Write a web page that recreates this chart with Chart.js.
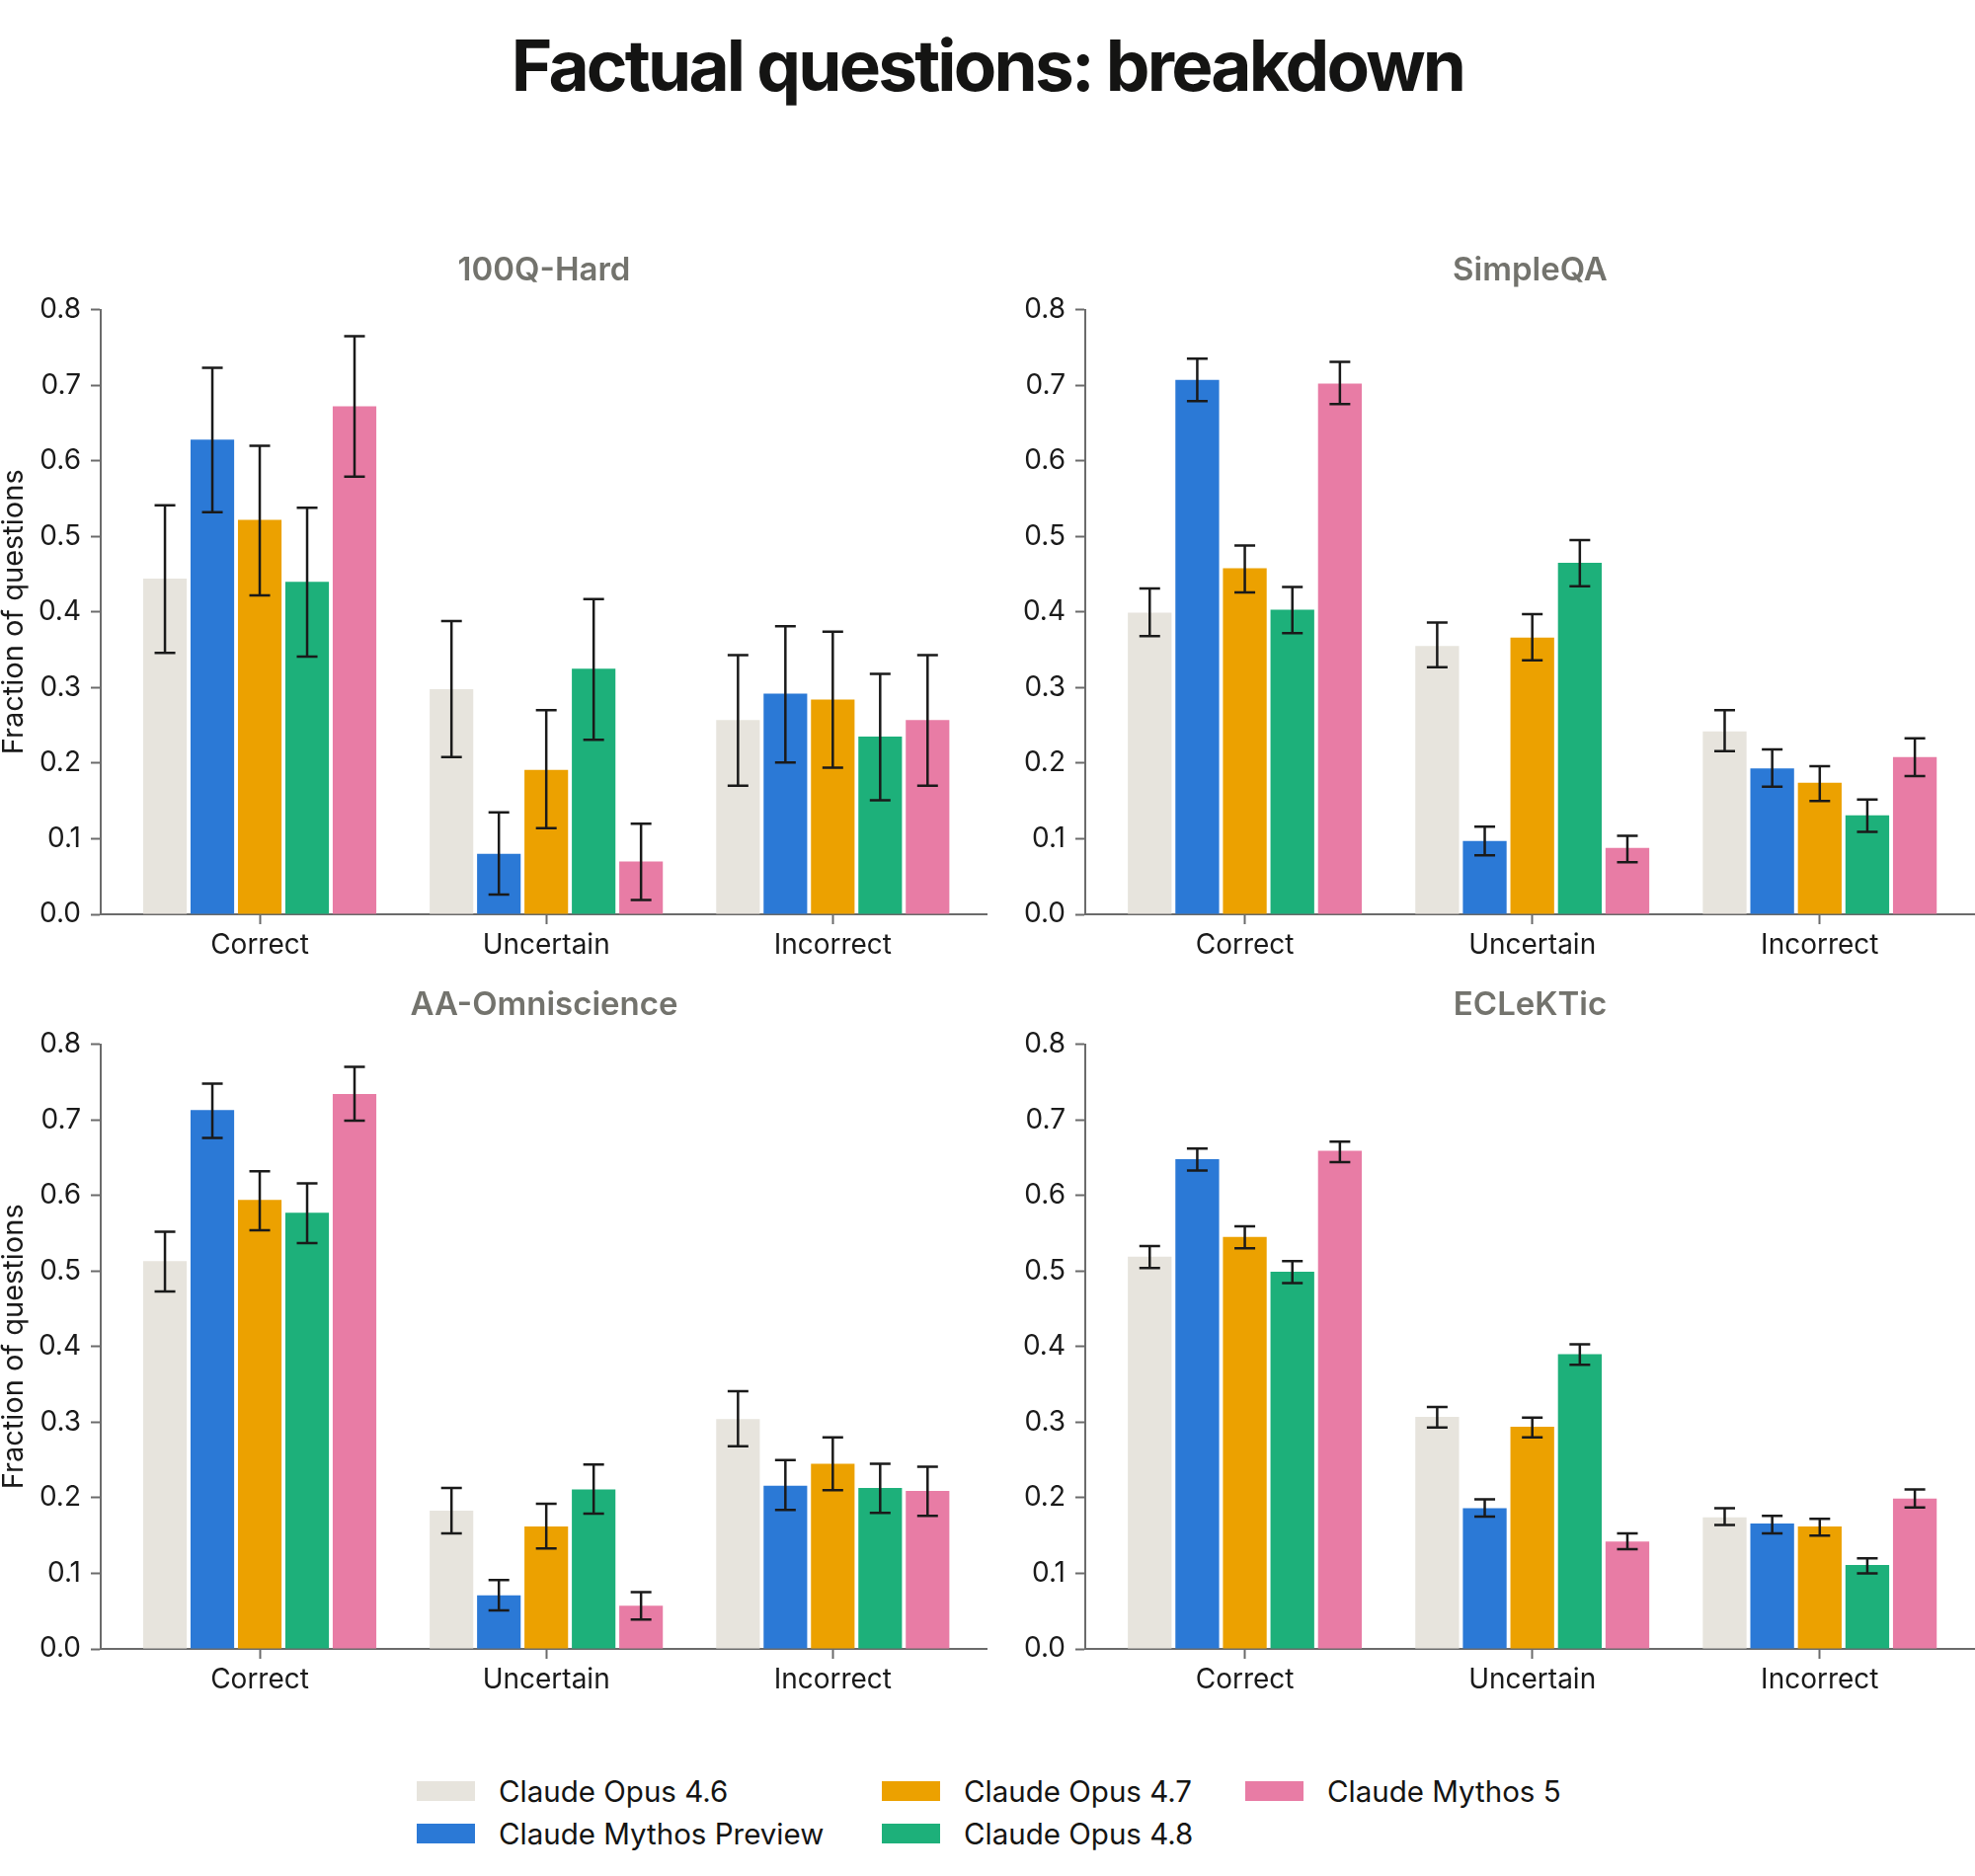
<!DOCTYPE html>
<html>
<head>
<meta charset="utf-8">
<script src="https://cdn.jsdelivr.net/npm/chart.js@4.4.1/dist/chart.umd.min.js"></script>
<style>
  body { margin: 0; background: #fff; width: 2000px; height: 1900px; position: relative; font-family: Inter, sans-serif; overflow: hidden; }
  #title { position: absolute; left: 0; top: 31px; width: 2000px; text-align: center; font-size: 71px; line-height: 1; font-weight: 700; letter-spacing: -2.8px; color: #141413; }
  canvas { position: absolute; }
  .item { position: absolute; height: 40px; display: flex; align-items: center; font-size: 29.5px; color: #141413; white-space: nowrap; }
  .swatch { width: 59px; height: 20px; margin-right: 24px; }
</style>
</head>
<body>
<div id="title">Factual questions: breakdown</div>
<canvas id="c0" width="1000" height="740" style="left:0;top:240px"></canvas>
<canvas id="c1" width="1000" height="740" style="left:1000px;top:240px"></canvas>
<canvas id="c2" width="1000" height="740" style="left:0;top:984px"></canvas>
<canvas id="c3" width="1000" height="740" style="left:1000px;top:984px"></canvas>
<div id="legend"></div>
<script>
const categories = ['Correct', 'Uncertain', 'Incorrect'];
const models = ['Claude Opus 4.6', 'Claude Mythos Preview', 'Claude Opus 4.7', 'Claude Opus 4.8', 'Claude Mythos 5'];
const colors = ['#e7e4dd', '#2b79d6', '#eca100', '#1db07a', '#e87ca5'];
const yTicks = [0, 0.1, 0.2, 0.3, 0.4, 0.5, 0.6, 0.7, 0.8];

// one row per model, columns follow categories
const hardMean = [[0.444, 0.298, 0.257], [0.628, 0.080, 0.292], [0.522, 0.191, 0.284], [0.440, 0.325, 0.235], [0.672, 0.070, 0.257]];
const hardLow  = [[0.346, 0.208, 0.170], [0.532, 0.026, 0.201], [0.422, 0.114, 0.194], [0.341, 0.231, 0.151], [0.579, 0.019, 0.170]];
const hardHigh = [[0.541, 0.388, 0.343], [0.723, 0.135, 0.381], [0.620, 0.270, 0.374], [0.538, 0.417, 0.318], [0.765, 0.120, 0.343]];

const simpleMean = [[0.399, 0.355, 0.242], [0.707, 0.097, 0.193], [0.458, 0.366, 0.174], [0.403, 0.465, 0.131], [0.702, 0.088, 0.208]];
const simpleLow  = [[0.368, 0.327, 0.216], [0.679, 0.078, 0.169], [0.426, 0.336, 0.150], [0.372, 0.434, 0.109], [0.675, 0.069, 0.183]];
const simpleHigh = [[0.431, 0.386, 0.270], [0.735, 0.116, 0.218], [0.488, 0.397, 0.196], [0.433, 0.495, 0.152], [0.731, 0.104, 0.233]];

const aaMean = [[0.513, 0.183, 0.304], [0.713, 0.071, 0.216], [0.594, 0.162, 0.245], [0.577, 0.211, 0.213], [0.734, 0.057, 0.209]];
const aaLow  = [[0.473, 0.153, 0.268], [0.676, 0.051, 0.184], [0.554, 0.133, 0.210], [0.537, 0.179, 0.180], [0.699, 0.039, 0.176]];
const aaHigh = [[0.552, 0.213, 0.341], [0.748, 0.091, 0.250], [0.632, 0.192, 0.280], [0.616, 0.244, 0.245], [0.770, 0.075, 0.241]];

const eclMean = [[0.519, 0.307, 0.174], [0.648, 0.186, 0.166], [0.545, 0.294, 0.162], [0.499, 0.390, 0.111], [0.659, 0.142, 0.199]];
const eclLow  = [[0.504, 0.293, 0.164], [0.633, 0.175, 0.153], [0.530, 0.280, 0.150], [0.484, 0.376, 0.100], [0.644, 0.132, 0.187]];
const eclHigh = [[0.533, 0.320, 0.186], [0.662, 0.198, 0.176], [0.559, 0.306, 0.172], [0.513, 0.403, 0.120], [0.671, 0.153, 0.211]];

const panels = [
  { id: 'c0', title: '100Q-Hard', mean: hardMean, low: hardLow, high: hardHigh, yTitle: true },
  { id: 'c1', title: 'SimpleQA', mean: simpleMean, low: simpleLow, high: simpleHigh, yTitle: false },
  { id: 'c2', title: 'AA-Omniscience', mean: aaMean, low: aaLow, high: aaHigh, yTitle: true },
  { id: 'c3', title: 'ECLeKTic', mean: eclMean, low: eclLow, high: eclHigh, yTitle: false }
];

Chart.defaults.font.family = 'Inter, sans-serif';
const axisGrey = '#6b6b6b';
const ink = '#1a1a1a';

// caps + whiskers on every bar
const errorBars = {
  id: 'errorBars',
  afterDatasetsDraw(chart) {
    const ctx = chart.ctx, y = chart.scales.y;
    ctx.save();
    ctx.strokeStyle = ink;
    ctx.lineWidth = 2.5;
    chart.data.datasets.forEach((ds, i) => {
      chart.getDatasetMeta(i).data.forEach((bar, j) => {
        const top = y.getPixelForValue(ds.errHigh[j]);
        const bot = y.getPixelForValue(ds.errLow[j]);
        ctx.beginPath();
        ctx.moveTo(bar.x, top); ctx.lineTo(bar.x, bot);
        ctx.moveTo(bar.x - 10.5, top); ctx.lineTo(bar.x + 10.5, top);
        ctx.moveTo(bar.x - 10.5, bot); ctx.lineTo(bar.x + 10.5, bot);
        ctx.stroke();
      });
    });
    ctx.restore();
  }
};

panels.forEach(p => {
  new Chart(document.getElementById(p.id), {
    type: 'bar',
    data: {
      datasets: models.map((m, i) => ({
        label: m,
        data: categories.map((c, k) => ({ x: k, y: p.mean[i][k] })),
        errLow: p.low[i],
        errHigh: p.high[i],
        backgroundColor: colors[i],
        borderWidth: 0,
        categoryPercentage: 0.827,
        barPercentage: 0.92
      }))
    },
    options: {
      responsive: false,
      animation: false,
      layout: { padding: 0 },
      plugins: {
        legend: { display: false },
        tooltip: { enabled: false },
        title: {
          display: true, text: p.title, fullSize: false,
          font: { size: 33, weight: '600' }, color: '#73736d',
          padding: { top: 14, bottom: 20 }
        }
      },
      scales: {
        x: {
          type: 'linear', min: -0.555, max: 2.54, offset: false,
          afterBuildTicks: s => { s.ticks = categories.map((c, k) => ({ value: k })); },
          ticks: { callback: v => categories[v], font: { size: 28 }, color: ink, padding: 5, maxRotation: 0, autoSkip: false },
          grid: { offset: false, drawOnChartArea: false, drawTicks: true, tickLength: 10, tickWidth: 2, color: axisGrey },
          border: { display: true, color: axisGrey, width: 2 },
          afterFit: s => { s.height = 54; }
        },
        y: {
          min: 0, max: 0.8,
          afterBuildTicks: s => { s.ticks = yTicks.map(v => ({ value: v })); },
          ticks: { callback: v => v.toFixed(1), font: { size: 28 }, color: ink, padding: 10 },
          grid: { drawOnChartArea: false, drawTicks: true, tickLength: 10, tickWidth: 2, color: axisGrey },
          border: { display: true, color: axisGrey, width: 2 },
          title: { display: p.yTitle, text: 'Fraction of questions', font: { size: 29, lineHeight: 1 }, color: ink, padding: 0 },
          afterFit: s => { s.width = p.yTitle ? 102 : 99; }
        }
      }
    },
    plugins: [errorBars]
  });
});

// legend filled column by column, like the source figure
const legendCols = [422, 893, 1261];
const legendRows = [1794, 1837];
const legend = document.getElementById('legend');
models.forEach((m, i) => {
  const item = document.createElement('div');
  item.className = 'item';
  item.style.left = legendCols[Math.floor(i / 2)] + 'px';
  item.style.top = legendRows[i % 2] + 'px';
  const sw = document.createElement('span');
  sw.className = 'swatch';
  sw.style.background = colors[i];
  item.appendChild(sw);
  item.appendChild(document.createTextNode(m));
  legend.appendChild(item);
});
</script>
</body>
</html>
